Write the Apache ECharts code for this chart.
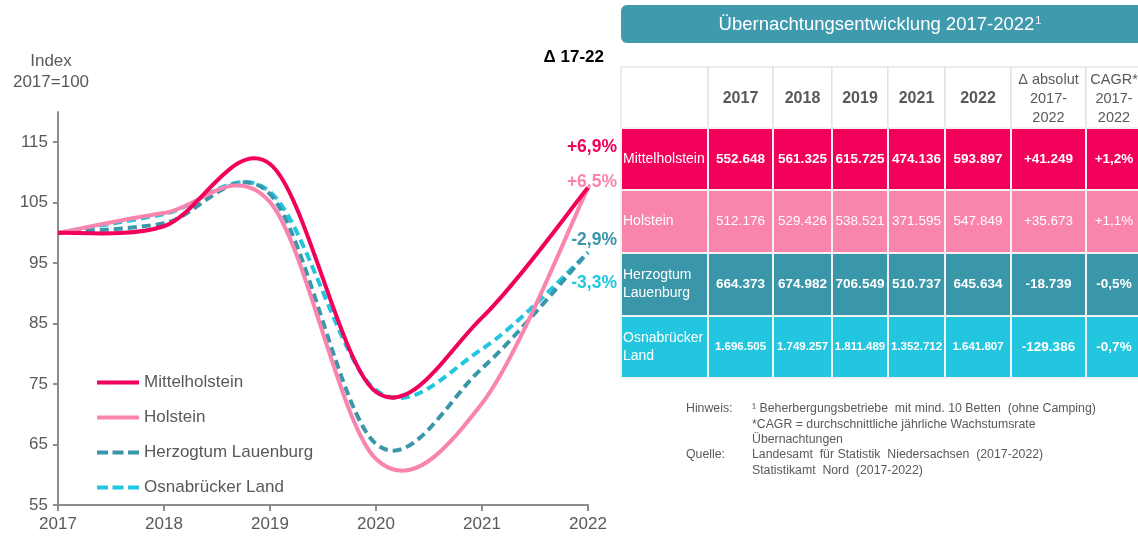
<!DOCTYPE html>
<html>
<head>
<meta charset="utf-8">
<script src="https://cdn.jsdelivr.net/npm/echarts@6/dist/echarts.min.js"></script>
<style>
  html, body { margin: 0; padding: 0; background: #fff; }
  #main { width: 1138px; height: 538px; }
</style>
</head>
<body>
<div id="main"></div>
<script>
// line chart data (index 2017 = 100)
var years = ['2017', '2018', '2019', '2020', '2021', '2022'];
var mittelholstein = [100, 101.1, 111.4, 73.7, 86.0, 107.5];
var holstein = [100, 103.3, 105.1, 62.6, 71.8, 107.4];
var lauenburg = [100, 101.6, 106.4, 65.1, 77.6, 96.8];
var osnabrueck = [100, 103.1, 106.8, 74.0, 80.8, 96.7];
var yTicks = [55, 65, 75, 85, 95, 105, 115];
var seriesNames = ['Mittelholstein', 'Holstein', 'Herzogtum Lauenburg', 'Osnabrücker Land'];
var changeLabels = ['+6,9%', '+6,5%', '-2,9%', '-3,3%'];

// table data
var tableYears = ['2017', '2018', '2019', '2021', '2022'];
var rowNames = ['Mittelholstein', 'Holstein', 'Herzogtum\nLauenburg', 'Osnabrücker\nLand'];
var rowValues = [
  ['552.648', '561.325', '615.725', '474.136', '593.897'],
  ['512.176', '529.426', '538.521', '371.595', '547.849'],
  ['664.373', '674.982', '706.549', '510.737', '645.634'],
  ['1.696.505', '1.749.257', '1.811.489', '1.352.712', '1.641.807']
];
var deltaAbs = ['+41.249', '+35.673', '-18.739', '-129.386'];
var cagr = ['+1,2%', '+1,1%', '-0,5%', '-0,7%'];

var colors = ['#f2005a', '#f984ae', '#3a96a9', '#22c6df'];
var gray = '#595959';
var font = '"Liberation Sans", Arial, sans-serif';

var chart = echarts.init(document.getElementById('main'), null, {renderer: 'canvas'});

// smooth curve like the office chart (catmull-rom through the points)
function curveRenderer(values, color, dashed) {
  return function (params, api) {
    if (params.dataIndex !== 0) return null;
    var pts = values.map(function (v, j) { return api.coord([j, v]); });
    var n = pts.length;
    var d = 'M' + pts[0][0] + ',' + pts[0][1];
    for (var j = 0; j < n - 1; j++) {
      var p0 = pts[Math.max(j - 1, 0)], p1 = pts[j], p2 = pts[j + 1], p3 = pts[Math.min(j + 2, n - 1)];
      var c1x = p1[0] + (p2[0] - p0[0]) / 6, c1y = p1[1] + (p2[1] - p0[1]) / 6;
      var c2x = p2[0] - (p3[0] - p1[0]) / 6, c2y = p2[1] - (p3[1] - p1[1]) / 6;
      d += ' C' + c1x + ',' + c1y + ' ' + c2x + ',' + c2y + ' ' + p2[0] + ',' + p2[1];
    }
    return {
      type: 'path',
      shape: {pathData: d},
      style: {fill: null, stroke: color, lineWidth: 4, lineDash: dashed ? [9, 5] : null}
    };
  };
}

var allData = [mittelholstein, holstein, lauenburg, osnabrueck];
var series = allData.map(function (vals, i) {
  return {
    name: seriesNames[i],
    type: 'custom',
    data: vals.map(function (v, j) { return [j, v]; }),
    encode: {x: 0, y: 1},
    z: 10 - i,
    itemStyle: {color: colors[i]},
    renderItem: curveRenderer(vals, colors[i], i >= 2)
  };
});

var solidIcon = 'path://M0,0H42V4H0Z';
var dashIcon = 'path://M0,0H11V4H0Z M15.5,0H26.5V4H15.5Z M31,0H42V4H31Z';

// table built from graphic elements
var colX = [621, 708, 773, 832, 888, 945, 1011, 1086, 1150];
var rowY = [67, 128, 190, 253, 316, 378];
var graphics = [];

// title box
graphics.push({
  type: 'rect', shape: {x: 621, y: 5, width: 530, height: 38, r: 6},
  style: {fill: '#3f9aae'}
});
graphics.push({
  type: 'text', x: 880, y: 25,
  style: {
    text: '{t|Übernachtungsentwicklung 2017-2022}{s|1}',
    align: 'center', verticalAlign: 'middle',
    rich: {
      t: {fill: '#fff', font: '18.5px ' + font},
      s: {fill: '#fff', font: '11px ' + font, verticalAlign: 'top', padding: [0, 0, 8, 1]}
    }
  }
});

// header row
var headers = [''].concat(tableYears).concat(['Δ absolut\n2017-\n2022', 'CAGR*\n2017-\n2022']);
headers.forEach(function (h, c) {
  graphics.push({
    type: 'rect',
    shape: {x: colX[c], y: rowY[0], width: colX[c + 1] - colX[c], height: rowY[1] - rowY[0]},
    style: {fill: '#fff', stroke: '#d9d9d9', lineWidth: 1}
  });
  var isYear = c >= 1 && c <= 5;
  graphics.push({
    type: 'text',
    x: c === 7 ? 1114 : (colX[c] + colX[c + 1]) / 2,
    y: 99,
    style: {
      text: h, fill: gray,
      font: (isYear ? 'bold 16px ' : '14.5px ') + font,
      lineHeight: 19, align: 'center', verticalAlign: 'middle'
    }
  });
});

// data rows
rowNames.forEach(function (name, r) {
  var cells = [name].concat(rowValues[r]).concat([deltaAbs[r], cagr[r]]);
  cells.forEach(function (txt, c) {
    graphics.push({
      type: 'rect',
      shape: {x: colX[c], y: rowY[r + 1], width: colX[c + 1] - colX[c], height: rowY[r + 2] - rowY[r + 1]},
      style: {fill: colors[r], stroke: '#f2f2f2', lineWidth: 2}
    });
    var cy = (rowY[r + 1] + rowY[r + 2]) / 2;
    if (c === 0) {
      graphics.push({
        type: 'text', x: colX[0] + 2, y: cy,
        style: {text: txt, fill: '#fff', font: '14px ' + font, lineHeight: 18,
          align: 'left', verticalAlign: 'middle'}
      });
    } else {
      var size = (r === 3 && c <= 5) ? 11.5 : 13.5;
      var bold = r !== 1 ? 'bold ' : '';
      graphics.push({
        type: 'text', x: c === 7 ? 1114 : (colX[c] + colX[c + 1]) / 2, y: cy,
        style: {text: txt, fill: '#fff', font: bold + size + 'px ' + font,
          align: 'center', verticalAlign: 'middle'}
      });
    }
  });
});

// footnotes
var noteLines = [
  ['Hinweis:', '¹ Beherbergungsbetriebe  mit mind. 10 Betten  (ohne Camping)'],
  ['', '*CAGR = durchschnittliche jährliche Wachstumsrate'],
  ['', 'Übernachtungen'],
  ['Quelle:', 'Landesamt  für Statistik  Niedersachsen  (2017-2022)'],
  ['', 'Statistikamt  Nord  (2017-2022)']
];
noteLines.forEach(function (l, i) {
  var y = 409 + i * 15.3;
  if (l[0]) graphics.push({type: 'text', x: 686, y: y,
    style: {text: l[0], fill: gray, font: '12.3px ' + font, verticalAlign: 'middle'}});
  graphics.push({type: 'text', x: 752, y: y,
    style: {text: l[1], fill: gray, font: '12.3px ' + font, verticalAlign: 'middle'}});
});

// chart texts
graphics.push({type: 'text', x: 51, y: 72,
  style: {text: 'Index\n2017=100', fill: gray, font: '17px ' + font, lineHeight: 21,
    align: 'center', verticalAlign: 'middle'}});
graphics.push({type: 'text', x: 604, y: 57,
  style: {text: 'Δ 17-22', fill: '#000', font: 'bold 17px ' + font,
    align: 'right', verticalAlign: 'middle'}});
var changeY = [147, 182, 240, 283];
changeLabels.forEach(function (t, i) {
  graphics.push({type: 'text', x: 617, y: changeY[i],
    style: {text: t, fill: colors[i], font: 'bold 17.5px ' + font,
      align: 'right', verticalAlign: 'middle'}});
});

chart.setOption({
  backgroundColor: '#fff',
  animation: false,
  textStyle: {fontFamily: font},
  grid: {left: 58, right: 550, top: 112, bottom: 33},
  legend: {
    orient: 'vertical',
    left: 92,
    top: 367,
    itemWidth: 42,
    itemHeight: 4,
    itemGap: 14,
    data: seriesNames.map(function (n, i) {
      return {name: n, icon: i >= 2 ? dashIcon : solidIcon};
    }),
    textStyle: {color: gray, fontSize: 17, lineHeight: 21, fontFamily: font}
  },
  xAxis: {
    type: 'category',
    data: years,
    boundaryGap: false,
    axisLine: {lineStyle: {color: '#8c8c8c', width: 2}},
    axisTick: {show: true, length: 6, lineStyle: {color: '#8c8c8c', width: 2}},
    axisLabel: {color: gray, fontSize: 17, margin: 11, fontFamily: font}
  },
  yAxis: {
    type: 'value',
    min: 55,
    max: 120,
    axisLine: {show: true, lineStyle: {color: '#8c8c8c', width: 2}},
    axisTick: {show: true, length: 5, customValues: yTicks, lineStyle: {color: '#8c8c8c', width: 2}},
    axisLabel: {color: gray, fontSize: 17, margin: 10, customValues: yTicks, fontFamily: font},
    splitLine: {show: false}
  },
  graphic: graphics,
  series: series
});
</script>
</body>
</html>
